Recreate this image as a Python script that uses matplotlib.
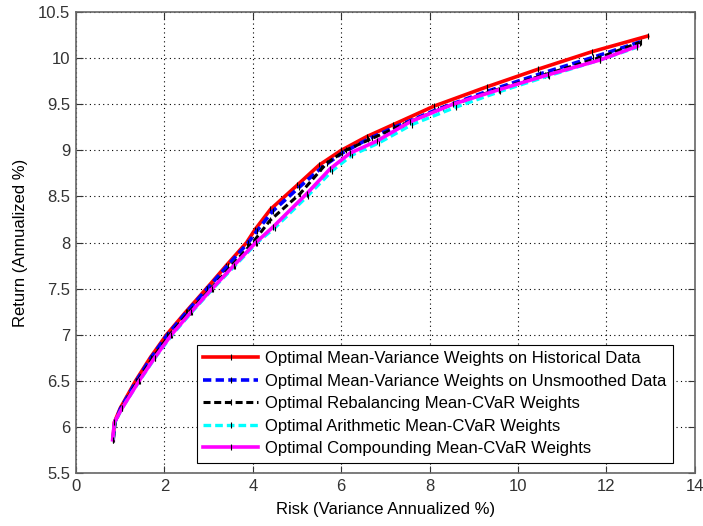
import numpy as np
import matplotlib
matplotlib.use('Agg')
import matplotlib.pyplot as plt

plt.rcParams['font.family'] = ['Liberation Sans', 'DejaVu Sans']

# frontier points
red_risk = [0.84, 0.87, 1.0, 1.35, 1.68, 2.05, 2.49, 2.95, 3.4, 3.86, 4.05, 4.4, 5.0, 5.5, 6.0, 6.58, 7.18, 8.1, 9.3, 10.45, 11.67, 12.93]
red_ret = [5.87, 6.05, 6.2, 6.5, 6.75, 7.0, 7.25, 7.5, 7.75, 8.0, 8.14, 8.36, 8.62, 8.84, 9.0, 9.15, 9.28, 9.48, 9.69, 9.88, 10.07, 10.24]

blue_risk = [0.84, 0.88, 1.01, 1.37, 1.7, 2.07, 2.51, 2.97, 3.43, 3.9, 4.1, 4.45, 5.05, 5.55, 6.02, 6.6, 7.2, 8.2, 9.3, 10.5, 11.7, 12.78]
blue_ret = [5.87, 6.05, 6.2, 6.5, 6.75, 7.0, 7.25, 7.5, 7.75, 8.0, 8.13, 8.34, 8.6, 8.81, 8.97, 9.12, 9.25, 9.45, 9.64, 9.83, 10.01, 10.18]

black_risk = [0.85, 0.89, 1.03, 1.4, 1.74, 2.12, 2.57, 3.05, 3.52, 4.0, 4.39, 5.07, 5.67, 6.1, 6.7, 7.4, 8.3, 9.4, 10.6, 11.8, 12.75]
black_ret = [5.87, 6.05, 6.2, 6.5, 6.75, 7.0, 7.25, 7.5, 7.75, 8.0, 8.24, 8.53, 8.86, 9.0, 9.13, 9.28, 9.46, 9.64, 9.82, 10.0, 10.17]

cyan_risk = [0.84, 0.88, 1.04, 1.44, 1.79, 2.18, 2.63, 3.1, 3.6, 4.1, 4.5, 5.25, 5.8, 6.25, 6.85, 7.6, 8.6, 9.6, 10.7, 11.85, 12.7]
cyan_ret = [5.86, 6.05, 6.2, 6.5, 6.75, 7.0, 7.25, 7.5, 7.75, 8.0, 8.16, 8.51, 8.78, 8.95, 9.08, 9.28, 9.47, 9.64, 9.81, 9.98, 10.12]

mag_risk = [0.83, 0.87, 1.04, 1.43, 1.78, 2.16, 2.61, 3.08, 3.57, 4.07, 4.46, 5.22, 5.75, 6.2, 6.8, 7.56, 8.52, 9.58, 10.68, 11.85, 12.7]
mag_ret = [5.86, 6.05, 6.2, 6.5, 6.75, 7.0, 7.25, 7.5, 7.75, 8.0, 8.17, 8.53, 8.8, 8.97, 9.1, 9.31, 9.5, 9.66, 9.82, 9.98, 10.13]

labels = ['Optimal Mean-Variance Weights on Historical Data',
          'Optimal Mean-Variance Weights on Unsmoothed Data',
          'Optimal Rebalancing Mean-CVaR Weights',
          'Optimal Arithmetic Mean-CVaR Weights',
          'Optimal Compounding Mean-CVaR Weights']

fig = plt.figure(figsize=(7.03, 5.26), dpi=100)
ax = fig.add_axes([0.108, 0.1008, 0.8805, 0.8762])

mk = dict(marker='|', markersize=4, markeredgecolor='k', markeredgewidth=0.8)
dash = (0, (2.3, 1.2))
ax.plot(red_risk, red_ret, color='#ff0000', lw=2.6, ls='-', label=labels[0], **mk)
ax.plot(blue_risk, blue_ret, color='#0000ff', lw=2.6, ls=dash, label=labels[1], **mk)
ax.plot(black_risk, black_ret, color='#000000', lw=2.2, ls=dash, label=labels[2], **mk)
ax.plot(cyan_risk, cyan_ret, color='#00ffff', lw=2.4, ls=dash, label=labels[3], **mk)
ax.plot(mag_risk, mag_ret, color='#ff00ff', lw=2.6, ls='-', label=labels[4], **mk)

ax.set_xlim(0, 14)
ax.set_ylim(5.5, 10.5)
ax.set_xticks(np.arange(0, 15, 2))
ax.set_yticks(np.arange(5.5, 10.6, 0.5))
ax.set_yticklabels(['5.5', '6', '6.5', '7', '7.5', '8', '8.5', '9', '9.5', '10', '10.5'])
ax.grid(True, color='k', linestyle=(0, (1, 3)), linewidth=0.8)
ax.tick_params(direction='in', labelsize=12, length=5, colors='#333333', top=True, right=True,
               labeltop=False, labelright=False, pad=4)
for s in ax.spines.values():
    s.set_color('#666666')
    s.set_linewidth(1.2)

ax.set_xlabel('Risk (Variance Annualized %)', fontsize=12, labelpad=6)
ax.set_ylabel('Return (Annualized %)', fontsize=12, labelpad=7)

leg = ax.legend(loc='lower right', bbox_to_anchor=(0.9645, 0.0217), borderaxespad=0,
                fontsize=12, handlelength=3.3, fancybox=False, framealpha=1,
                edgecolor='k', labelspacing=0.45, borderpad=0.4, handletextpad=0.4)
leg.get_frame().set_linewidth(0.8)

fig.savefig('out.png', dpi=100)
